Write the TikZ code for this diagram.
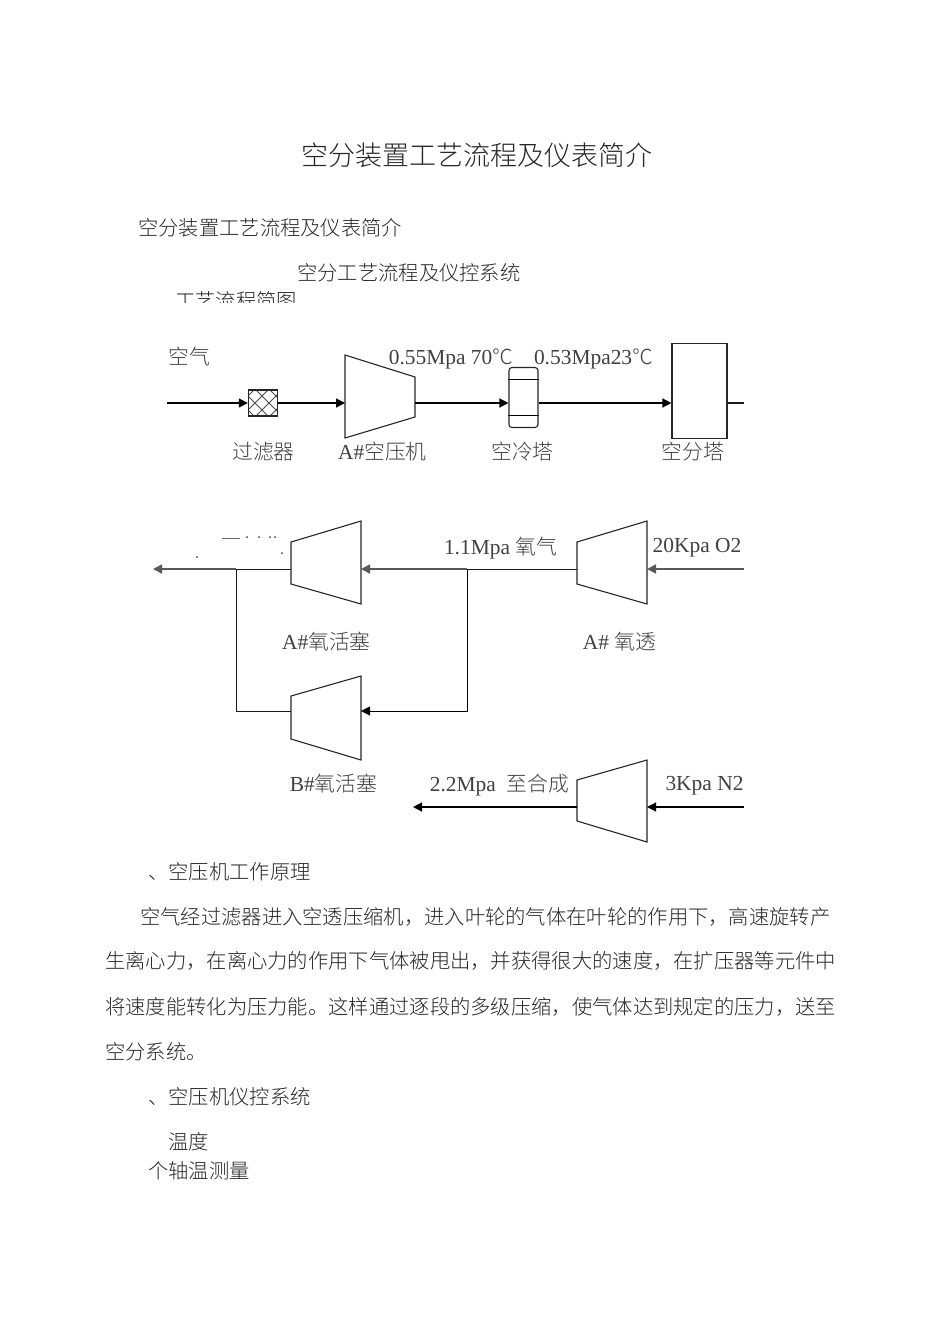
\documentclass[tikz,border=0pt]{standalone}
\usepackage{fontspec}
\setmainfont{Noto Sans CJK SC}[UprightFont=* Light]
\newfontfamily\lat{Liberation Serif}[Scale=1.03]
\usetikzlibrary{arrows.meta}
\tikzset{
  body/.style={anchor=west,inner sep=0pt,font=\fontsize{20.3}{24}\selectfont,text=black!85},
  lbl/.style={anchor=center,inner sep=0pt,font=\fontsize{20.8}{24}\selectfont,text=black!75},
  vessel/.style={draw=black!85,line width=1.1pt,fill=white},
  pipe/.style={draw=black!90,line width=.95pt},
  flow/.style={draw=black,line width=1.25pt,-{Triangle[length=9pt,width=9pt]}},
  flowgray/.style={draw=black!65,line width=1.7pt,-{Triangle[length=9pt,width=9pt]}},
}
% compressor: name, x left, x right, y left top, y left bottom, y right top, y right bottom, y of line
\newcommand{\comp}[8]{
  \draw[vessel] (#2,#4) -- (#3,#6) -- (#3,#7) -- (#2,#5) -- cycle;
  \coordinate (#1w) at (#2,#8);
  \coordinate (#1e) at (#3,#8);
}
\begin{document}
\begin{tikzpicture}[x=1pt,y=-1pt]
\useasboundingbox (0,0) rectangle (950,1344);

% headings
\node[anchor=center,inner sep=0pt,font=\fontsize{27}{30}\selectfont,text=black!85] (title) at (477,155) {空分装置工艺流程及仪表简介};
\node[body] (head) at (138,228) {空分装置工艺流程及仪表简介};
\node[body] (sub) at (297,273) {空分工艺流程及仪控系统};
\begin{scope}
\clip (170,285) rectangle (300,302);
\node[body] (cut) at (175,301) {工艺流程简图};
\end{scope}

% top row
\node[lbl] (air) at (189,357) {空气};
\coordinate (airin) at (167,403);
\node[draw=black!85,line width=1.3pt,minimum width=29pt,minimum height=26pt,inner sep=0pt,
  path picture={\foreach \i in {-56,-42,...,42}{
    \draw[black!70,line width=.9pt] (path picture bounding box.center) ++(\i,-20) -- ++(40,40);
    \draw[black!70,line width=.9pt] (path picture bounding box.center) ++(\i,20) -- ++(40,-40);
  }}] (filter) at (263,403) {};
\comp{aircomp}{345}{415}{355}{438}{377}{417}{403}
\node[vessel,rounded corners=3pt,minimum width=29pt,minimum height=60pt,inner sep=0pt] (cooler) at (523.5,397.5) {};
\draw[black,line width=1pt] (cooler.west |- 0,379) -- (cooler.east |- 0,379);
\draw[black,line width=1pt] (cooler.west |- 0,415) -- (cooler.east |- 0,415);
\node[vessel,minimum width=55pt,minimum height=95pt,inner sep=0pt] (tower) at (699.5,391) {};
\coordinate (towerout) at (744,403);
\draw[flow] (airin) -- (filter.west |- airin);
\draw[flow] (filter.east |- airin) -- (aircompw);
\draw[flow] (aircompe) -- (cooler.west |- aircompe);
\draw[flow] (cooler.east |- aircompe) -- (tower.west |- aircompe);
\draw[pipe,line width=1.25pt] (tower.east |- towerout) -- (towerout);
\node[lbl] (p1) at (451,359) {{\lat 0.55Mpa 70}℃};
\node[lbl] (p2) at (593.5,359) {{\lat 0.53Mpa23}℃};
\node[lbl] (lf) at (263.5,452) {过滤器};
\node[lbl] (la) at (382.5,452) {{\lat A\#}空压机};
\node[lbl] (lc) at (522.5,452) {空冷塔};
\node[lbl] (lt) at (693,452) {空分塔};

% oxygen row
\comp{opa}{291}{361}{542}{584}{521}{604}{569}
\comp{opb}{291}{361}{696}{739}{676}{760}{711}
\comp{otc}{577}{647}{542}{584}{521}{604}{569}
\comp{ntc}{577}{647}{780}{821}{760}{842}{807}
\coordinate (oin) at (744,569);
\coordinate (oout) at (153,569);
\coordinate (jl) at (236,569);
\coordinate (jr) at (467,569);
\coordinate (nin) at (744,807);
\coordinate (nout) at (413,807);
\draw[flowgray] (oin) -- (otce);
\draw[pipe] (otcw) -- (jr);
\draw[flowgray] (jr) -- (opae);
\draw[pipe] (opaw) -- (jl);
\draw[flowgray] (jl) -- (oout);
\draw[pipe] (jl) |- (opbw);
\draw[flow,line width=.95pt] (jr) |- (opbe);
\draw[flow] (nin) -- (ntce);
\draw[flow] (ntcw) -- (nout);
\node[lbl] (p3) at (500.5,548) {{\lat 1.1Mpa }氧气};
\node[lbl] (p4) at (697,548) {\lat 20Kpa O2};
\node[lbl] (lo1) at (326.5,642) {{\lat A\#}氧活塞};
\node[lbl] (lo2) at (619.5,642) {{\lat A\# }氧透};
\node[lbl] (lo3) at (333.5,784) {{\lat B\#}氧活塞};
\node[lbl] (p5) at (499.5,785) {{\lat 2.2Mpa\ \ }至合成};
\node[lbl] (p6) at (704.5,786) {\lat 3Kpa N2};

% specks left of the first piston
\draw[black!60,line width=.8pt] (222,538) -- (240,538);
\foreach \x/\y in {247/537,259/537,270/537,275/537,282/553,197/557}
  \fill[black!75] (\x,\y) circle (1pt);

% body text
\node[body] (s1) at (148,872) {、空压机工作原理};
\node[body] (t1) at (140,917) {空气经过滤器进入空透压缩机，进入叶轮的气体在叶轮的作用下，高速旋转产};
\node[body] (t2) at (105,961) {生离心力，在离心力的作用下气体被甩出，并获得很大的速度，在扩压器等元件中};
\node[body] (t3) at (105,1007) {将速度能转化为压力能。这样通过逐段的多级压缩，使气体达到规定的压力，送至};
\node[body] (t4) at (105,1052) {空分系统。};
\node[body] (s2) at (148,1097) {、空压机仪控系统};
\node[body] (s3) at (168,1142) {温度};
\node[body] (s4) at (148,1171) {个轴温测量};
\end{tikzpicture}
\end{document}
